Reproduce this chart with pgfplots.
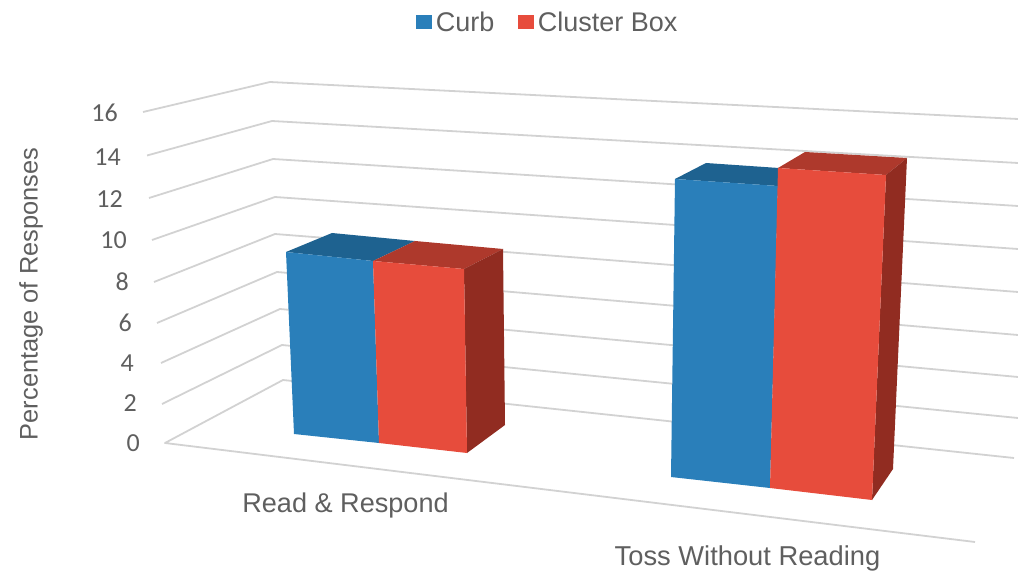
\documentclass[border=0pt]{standalone}
\usepackage{pgfplots}
\pgfplotsset{compat=1.18}
\usepackage{fontspec}
\setmainfont{Liberation Sans}
\newfontfamily\tickfont{Carlito}
\definecolor{gridc}{HTML}{D2D2D2}
\definecolor{txt}{HTML}{5F5F5F}
\definecolor{curb}{HTML}{2A7FBA}
\definecolor{curbtop}{HTML}{1E6290}
\definecolor{box}{HTML}{E74C3C}
\definecolor{boxtop}{HTML}{AE392C}
\definecolor{boxside}{HTML}{912C21}
\tikzset{txtnode/.style={text=txt, font=\fontsize{#1}{#1}\selectfont, inner sep=0pt},
  ticknode/.style={text=txt, font=\tickfont\fontsize{26}{26}\selectfont, inner sep=0pt, anchor=east}}
\begin{document}
\begin{tikzpicture}
\useasboundingbox (0,0) rectangle (1018pt,572pt);
\begin{axis}[
  at={(0,0)}, anchor=south west,
  width=1018pt, height=572pt, scale only axis,
  xmin=0, xmax=1018, ymin=0, ymax=572, y dir=reverse,
  axis lines=none, clip=true,
  legend columns=2,
  legend style={at={(axis cs:416,10)}, anchor=north west, draw=none, fill=none,
    font=\fontsize{27}{30}\selectfont\color{txt},
    inner sep=0pt, outer sep=0pt,
    /tikz/every even column/.append style={column sep=21.5pt}},
  legend cell align=left,
  grid3d/.style={draw=gridc, line width=1.8pt, line join=round, forget plot},
  bar3d/.style={draw=none, forget plot},
]
% Walls and floor: the rules at 16, 14, ... 0 percent, side wall then back wall
\addplot[grid3d] coordinates {(143,112)(270,82)(1018,119)};
\addplot[grid3d] coordinates {(147,155.5)(272,121)(1018,163)};
\addplot[grid3d] coordinates {(149,198)(273,159)(1018,206)};
\addplot[grid3d] coordinates {(152,240)(275,197)(1018,249)};
\addplot[grid3d] coordinates {(154,282)(275,234)(1018,292)};
\addplot[grid3d] coordinates {(157,323)(277,272)(1018,335)};
\addplot[grid3d] coordinates {(161,363)(280,309)(1018,377)};
\addplot[grid3d] coordinates {(162,404)(282,345)(1018,418)};
\addplot[grid3d] coordinates {(1014,458)(283,380)(165,443)(975,542)};

% Read & Respond, Curb
\addplot[bar3d, fill=curbtop] coordinates {(286,252)(332,233)(415,241)(373,261)} -- cycle;
\addplot[bar3d, fill=curb] coordinates {(286,252)(373,261)(379,443)(294,434)} -- cycle;
% Read & Respond, Cluster Box
\addplot[bar3d, fill=boxtop] coordinates {(373,261)(415,241)(503,249)(464,269)} -- cycle;
\addplot[bar3d, fill=boxside] coordinates {(464,269)(503,249)(505,425)(467,453)} -- cycle;
\addplot[bar3d, fill=box] coordinates {(373,261)(464,269)(467,453)(379,443)} -- cycle;

% Toss Without Reading, Curb
\addplot[bar3d, fill=curbtop] coordinates {(675,179)(706,163)(779,168)(778,186)} -- cycle;
\addplot[bar3d, fill=curb] coordinates {(675,179)(778,186)(770,488)(671,477)} -- cycle;
% Toss Without Reading, Cluster Box
\addplot[bar3d, fill=boxtop] coordinates {(778,168)(805,152)(907,158)(886,175)} -- cycle;
\addplot[bar3d, fill=boxside] coordinates {(886,175)(907,158)(893,469)(872,500)} -- cycle;
\addplot[bar3d, fill=box] coordinates {(778,168)(886,175)(872,500)(770,488)} -- cycle;

\addlegendimage{legend image code/.code={\fill[curb] (0pt,-6pt) rectangle (15pt,7pt); \path (17.5pt,0pt);}}
\addlegendentry{Curb}
\addlegendimage{legend image code/.code={\fill[box] (0pt,-6pt) rectangle (15pt,7pt); \path (17.5pt,0pt);}}
\addlegendentry{Cluster Box}

% Percentage scale
\node[ticknode] at (axis cs:118,113) {16};
\node[ticknode] at (axis cs:121,157) {14};
\node[ticknode] at (axis cs:123,199) {12};
\node[ticknode] at (axis cs:127,240) {10};
\node[ticknode] at (axis cs:129,282) {8};
\node[ticknode] at (axis cs:132,323) {6};
\node[ticknode] at (axis cs:134,363) {4};
\node[ticknode] at (axis cs:137,403) {2};
\node[ticknode] at (axis cs:140,443) {0};
\node[txtnode=25.4, rotate=90] at (axis cs:31,294) {Percentage of Responses};
\node[txtnode=27.1] at (axis cs:345.5,505) {Read \& Respond};
\node[txtnode=27.3] at (axis cs:747.5,558) {Toss Without Reading};
\end{axis}
\end{tikzpicture}
\end{document}
